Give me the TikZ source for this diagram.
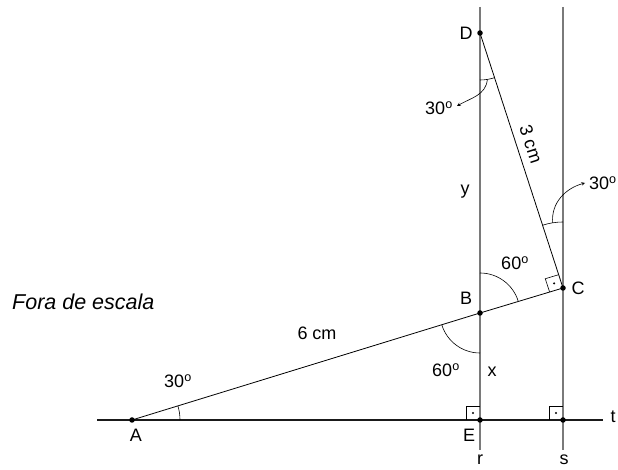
\documentclass[tikz,border=0pt]{standalone}
\usepackage{fontspec}
\setmainfont{Liberation Sans}
\usetikzlibrary{calc}
\definecolor{line-gray}{HTML}{7A7A7A}
\definecolor{jet}{HTML}{1A1A1A}

\begin{document}
\begin{tikzpicture}[x=1pt, y=1pt,
    every node/.style={font=\fontsize{18}{21}\selectfont, inner sep=1pt},
    dot/.style={circle, fill=black, inner sep=0pt, minimum size=5.5pt}]
    \useasboundingbox (0,0) rectangle (618,470);
    % points of the figure
    \coordinate (A) at (132,50);
    \coordinate (E) at (480,50);
    \coordinate (B) at (480,157);
    \coordinate (C) at (563,182);
    \coordinate (D) at (480,437);
    \coordinate (S) at (563,50);
    \coordinate (rtop) at (480,463);
    \coordinate (rbot) at (480,20);
    \coordinate (stop) at (563,463);
    \coordinate (sbot) at (563,20);
    \coordinate (tl) at (97,50);
    \coordinate (tr) at (603,50);
    % lines r, s and t
    \draw[line-gray, line width=1.3pt] (rtop) -- (rbot);
    \draw[line-gray, line width=1.3pt] (stop) -- (sbot);
    \draw[jet, line width=1.3pt] (tl) -- (tr);
    % triangle sides
    \draw[black, line width=0.8pt] (A) -- (B) -- (C) -- (D);
    % angle marks
    \draw[line width=0.6pt] ($(A)+(0:48)$) arc[start angle=0, end angle=17.1, radius=48];
    \draw[line width=0.6pt] ($(B)+(16.8:40)$) arc[start angle=16.8, end angle=90, radius=40];
    \draw[line width=0.6pt] ($(B)+(197.1:40)$) arc[start angle=197.1, end angle=270, radius=40];
    \draw[line width=0.6pt] ($(D)+(270:47)$) arc[start angle=270, end angle=288, radius=47];
    \draw[line width=0.6pt] ($(C)+(90:66)$) arc[start angle=90, end angle=108, radius=66];
    % right angles
    \draw[line width=0.6pt] ($(E)+(-14,0)$) -- ++(0,14) -- ++(14,0);
    \fill ($(E)+(-7,7)$) circle (1.2);
    \draw[line width=0.6pt] ($(S)+(-14,0)$) -- ++(0,14) -- ++(14,0);
    \fill ($(S)+(-7,7)$) circle (1.2);
    \draw[line width=0.6pt] ($(C)+(196.8:14)$) -- ($(C)+(196.8:14)+(108:14)$) -- ($(C)+(108:14)$);
    \fill ($(C)+(196.8:7)+(108:7)$) circle (1.2);
    % curved arrows to the angle labels
    \coordinate (dm) at ($(D)+(279:47)$);
    \coordinate (da) at (457,364);
    \draw[-stealth, line width=0.6pt] (dm) to[out=-95, in=30] (da);
    \coordinate (cm) at ($(C)+(99:66)$);
    \coordinate (ca) at (585,287);
    \draw[-stealth, line width=0.6pt] (cm) to[out=95, in=195] (ca);
    % points
    \node[dot] (pa) at (A) {};
    \node[dot] (pe) at (E) {};
    \node[dot] (pb) at (B) {};
    \node[dot] (pc) at (C) {};
    \node[dot] (pd) at (D) {};
    \node[dot] (ps) at (S) {};
    % labels
    \node (la) at (136,35) {A};
    \node (le) at (469,35) {E};
    \node (lb) at (466,172) {B};
    \node (lc) at (578,182) {C};
    \node (ld) at (466,437) {D};
    \node (lr) at (480,10) {r};
    \node (ls) at (564,10) {s};
    \node (lt) at (613,53) {t};
    \node (lx) at (492,98) {x};
    \node (ly) at (465,278) {y};
    \node (aa) at (178,89) {30\textsuperscript{o}};
    \node (ab1) at (515,207) {60\textsuperscript{o}};
    \node (ab2) at (446,100) {60\textsuperscript{o}};
    \node (ad) at (439,362) {30\textsuperscript{o}};
    \node[anchor=west] (ac) at (588,287) {30\textsuperscript{o}};
    \node (sab) at (317,137) {6 cm};
    \node[rotate=-72] (scd) at (531,326) {3 cm};
    \node[anchor=west, font=\fontsize{21.5}{25}\selectfont\itshape] (nota) at (11,168) {Fora de escala};
\end{tikzpicture}
\end{document}
